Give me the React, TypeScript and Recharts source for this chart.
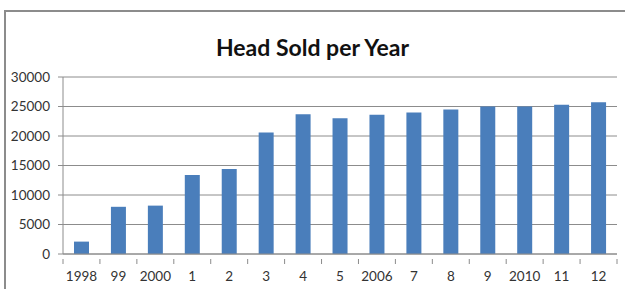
import React from "react";
import { BarChart, Bar, XAxis, YAxis, CartesianGrid } from "recharts";

const years = ["1998", "99", "2000", "1", "2", "3", "4", "5", "2006", "7", "8", "9", "2010", "11", "12"];
const headSold = [2100, 8000, 8200, 13400, 14400, 20600, 23700, 23000, 23600, 24000, 24500, 25000, 25000, 25300, 25700];
const yTicks = [0, 5000, 10000, 15000, 20000, 25000, 30000];

const data = years.map((year, i) => ({ year, sold: headSold[i] }));

const W = 625;
const H = 289;
const LEFT = 63;
const RIGHT = 8;
const band = (W - LEFT - RIGHT) / years.length;

const XTick = (props: any) => {
  const { x, y, payload, index } = props;
  const left = x - band / 2;
  const right = x + band / 2;
  return (
    <g>
      <line x1={left} y1={y - 9} x2={left} y2={y - 4} stroke="#8c8c8c" />
      {index === years.length - 1 && (
        <line x1={right} y1={y - 9} x2={right} y2={y - 4} stroke="#8c8c8c" />
      )}
      <text x={x} y={y + 3} dy="0.71em" textAnchor="middle" fill="#333" fontSize={13.5} fontFamily="Lato">
        {payload.value}
      </text>
    </g>
  );
};

export default function App() {
  return (
    <div style={{ position: "absolute", left: 0, top: 0, width: W, height: H, background: "#fff" }}>
      <div
        style={{
          position: "absolute",
          left: 4,
          top: 10,
          width: W - 4,
          height: H - 10,
          borderTop: "2px solid #8c8c8c",
          borderLeft: "2px solid #8c8c8c",
          boxSizing: "border-box",
        }}
      />
      <div
        style={{
          position: "absolute",
          left: 0,
          top: 33,
          width: W,
          textAlign: "center",
          fontFamily: "Lato",
          fontWeight: 700,
          fontSize: 23,
          color: "#111",
        }}
      >
        Head Sold per Year
      </div>
      <div style={{ position: "absolute", left: 0, top: 0 }}>
        <BarChart
          width={W}
          height={H}
          data={data}
          margin={{ top: 77, right: RIGHT, left: 0, bottom: 5 }}
          barCategoryGap="20%"
        >
          <CartesianGrid horizontal vertical={false} stroke="#8c8c8c" strokeDasharray="" />
          <XAxis
            dataKey="year"
            height={30}
            tickLine={false}
            axisLine={{ stroke: "#8c8c8c" }}
            tick={<XTick />}
            interval={0}
            tickMargin={8}
          />
          <YAxis
            width={LEFT}
            domain={[0, 30000]}
            ticks={yTicks}
            interval={0}
            tickSize={5}
            tickMargin={8}
            tickLine={{ stroke: "#8c8c8c" }}
            axisLine={{ stroke: "#8c8c8c" }}
            tick={{ fill: "#333", fontSize: 13.5, fontFamily: "Lato" }}
          />
          <Bar dataKey="sold" fill="#4a7ebb" barSize={15} isAnimationActive={false} />
        </BarChart>
      </div>
    </div>
  );
}
